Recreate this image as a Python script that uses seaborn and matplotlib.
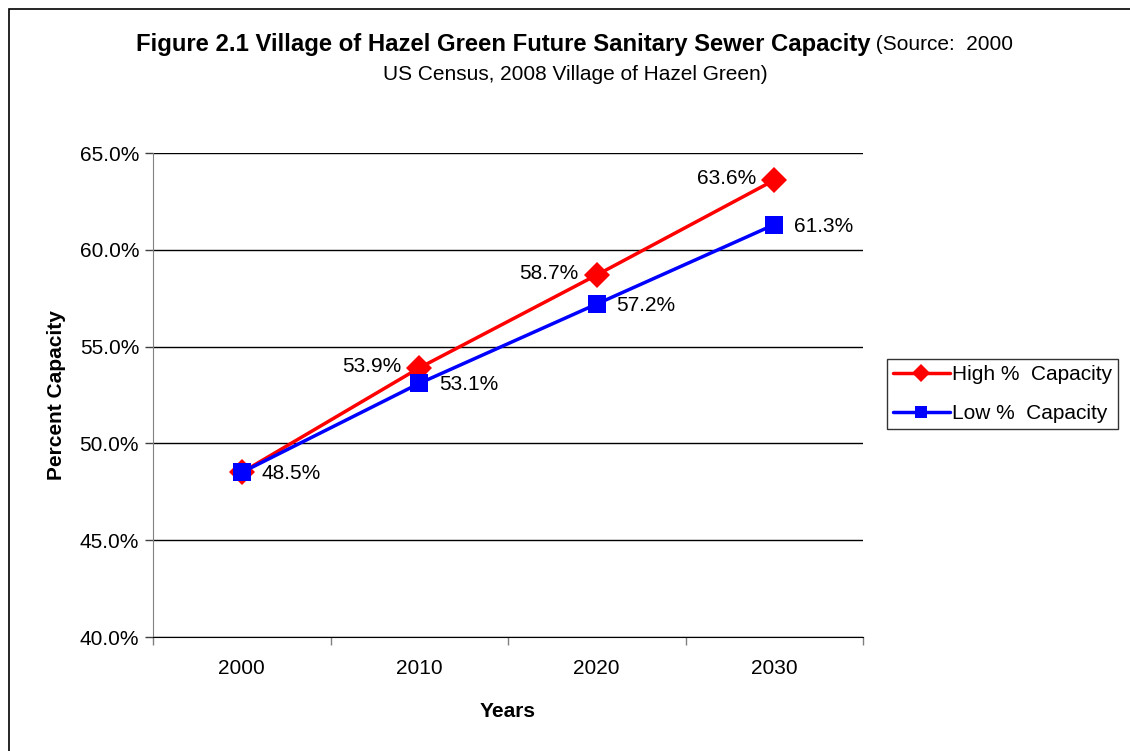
import matplotlib
matplotlib.use('Agg')
import pandas as pd
import matplotlib.pyplot as plt
import seaborn as sns
from matplotlib.patches import Rectangle
from matplotlib.lines import Line2D
from matplotlib.ticker import FixedLocator, PercentFormatter

years = ['2000', '2010', '2020', '2030']
high = [48.5, 53.9, 58.7, 63.6]
low = [48.5, 53.1, 57.2, 61.3]
series_names = ['High %  Capacity', 'Low %  Capacity']

sns.set_style('white')
plt.rcParams['font.family'] = ['Liberation Sans', 'DejaVu Sans']
for k in ['text.color', 'axes.labelcolor', 'xtick.color', 'ytick.color']:
    plt.rcParams[k] = 'black'

FS = 15

df = pd.DataFrame({
    'pos': list(range(len(years))) * 2,
    'value': high + low,
    'series': [series_names[0]] * len(years) + [series_names[1]] * len(years),
})

fig = plt.figure(figsize=(11.3, 7.51), dpi=100)
ax = fig.add_axes([153 / 1130, 1 - 637 / 751, (863 - 153) / 1130, (637 - 153) / 751])

sns.lineplot(data=df, x='pos', y='value', hue='series', style='series',
             palette={series_names[0]: '#ff0000', series_names[1]: '#0000ff'},
             markers={series_names[0]: 'D', series_names[1]: 's'},
             dashes=False, markersize=13.5, linewidth=2.5, markeredgewidth=0,
             ax=ax, legend=False)

ax.set_xlim(-0.5, len(years) - 0.5)
ax.set_ylim(40, 65)
ax.yaxis.set_major_locator(FixedLocator([40, 45, 50, 55, 60, 65]))
ax.yaxis.set_major_formatter(PercentFormatter(decimals=1))
ax.grid(axis='y', color='black', linewidth=1)
ax.set_axisbelow(True)

# category ticks sit between the years, labels centred in each slot
ax.set_xticks([i - 0.5 for i in range(len(years) + 1)])
ax.set_xticklabels([])
ax.set_xticks(range(len(years)), minor=True)
ax.set_xticklabels(years, minor=True)
ax.tick_params(axis='x', which='major', direction='out', length=6, width=1, color='#808080', bottom=True)
ax.tick_params(axis='x', which='minor', length=0, pad=16, labelsize=FS)
ax.tick_params(axis='y', direction='out', length=6, width=1, color='#404040', left=True, labelsize=FS, pad=4)

for s in ['top', 'right']:
    ax.spines[s].set_visible(False)
ax.spines['left'].set_color('#808080')
ax.spines['bottom'].set_color('black')

ax.set_xlabel('Years', fontsize=FS, fontweight='bold', labelpad=17)
ax.set_ylabel('Percent Capacity', fontsize=FS, fontweight='bold', labelpad=10)

# data labels
for i, v in enumerate(high):
    if i == 0:
        continue
    ax.annotate(f'{v:.1f}%', (i, v), xytext=(-13, 1), textcoords='offset points',
                ha='right', va='center', fontsize=FS)
for i, v in enumerate(low):
    ax.annotate(f'{v:.1f}%', (i, v), xytext=(14, -1), textcoords='offset points',
                ha='left', va='center', fontsize=FS)

# legend
handles = [Line2D([], [], color='#ff0000', marker='D', markersize=9, linewidth=2.5, markeredgewidth=0),
           Line2D([], [], color='#0000ff', marker='s', markersize=9, linewidth=2.5, markeredgewidth=0)]
leg = fig.legend(handles, series_names, loc='center left', bbox_to_anchor=(887 / 1130, 1 - 394 / 751),
                 frameon=True, fancybox=False, edgecolor='black', fontsize=FS,
                 handlelength=2.7, handletextpad=0.1, borderpad=0.3, labelspacing=0.95,
                 borderaxespad=0)
leg.get_frame().set_linewidth(1)

# title
t1 = fig.text(136 / 1130, 1 - 44 / 751, 'Figure 2.1 Village of Hazel Green Future Sanitary Sewer Capacity',
              ha='left', va='center', fontsize=17.2, fontweight='bold')
fig.canvas.draw()
bb = t1.get_window_extent()
fig.text(bb.x1 / 1130, 1 - 44 / 751, ' (Source:  2000', ha='left', va='center', fontsize=FS)
fig.text(575 / 1130, 1 - 74 / 751, 'US Census, 2008 Village of Hazel Green)',
         ha='center', va='center', fontsize=FS)

# outer chart frame
fig.patches.append(Rectangle((8.5 / 1130, -0.05), 1.2, 1 - 8.5 / 751 + 0.05,
                             transform=fig.transFigure, fill=False, edgecolor='black', linewidth=1.2))

fig.savefig('out.png', dpi=100)
